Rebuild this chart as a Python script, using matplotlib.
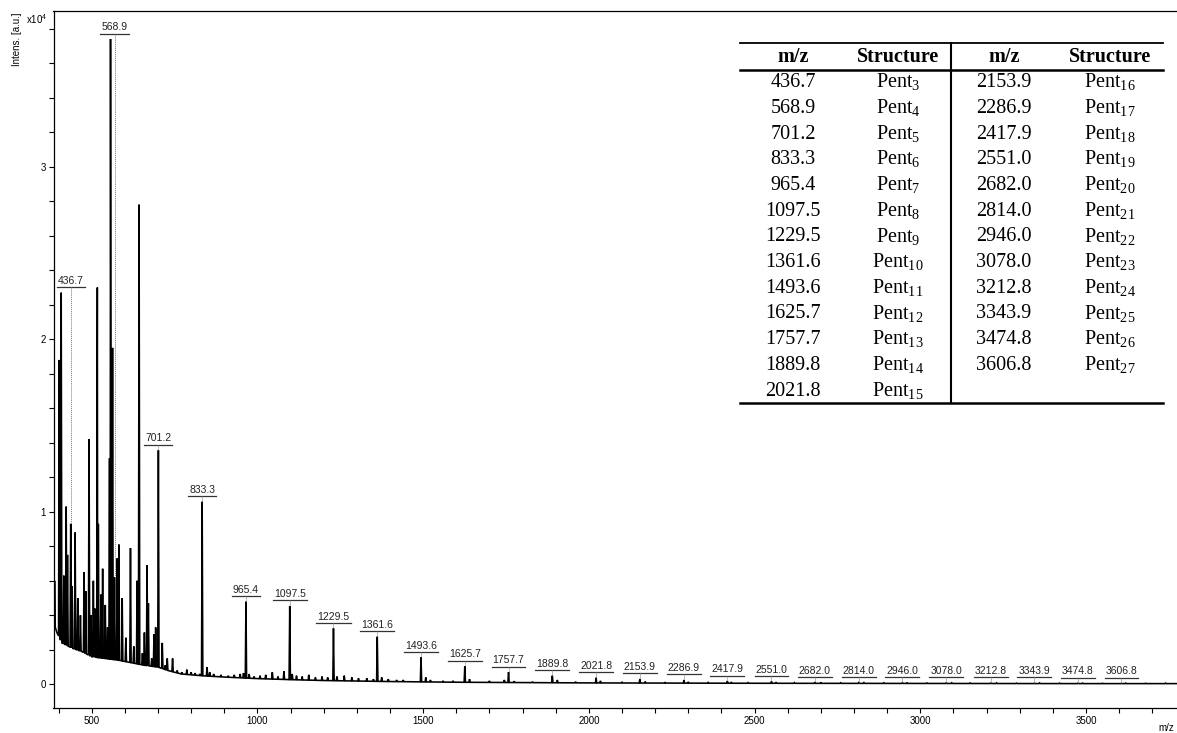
import numpy as np
import matplotlib
matplotlib.use('Agg')
import matplotlib.pyplot as plt
from matplotlib.ticker import MultipleLocator

plt.rcParams['font.family'] = ['Liberation Sans', 'DejaVu Sans']
plt.rcParams['mathtext.fontset'] = 'custom'
plt.rcParams['mathtext.rm'] = 'Liberation Serif'
plt.rcParams['mathtext.sf'] = 'Liberation Sans'

# Pent series (labelled peaks), intensity in units of 1e4
pent_mz = [436.7, 568.9, 701.2, 833.3, 965.4, 1097.5, 1229.5, 1361.6, 1493.6,
           1625.7, 1757.7, 1889.8, 2021.8, 2153.9, 2286.9, 2417.9, 2551.0,
           2682.0, 2814.0, 2946.0, 3078.0, 3212.8, 3343.9, 3474.8, 3606.8]
pent_int = [0.93, 0.62, 1.357, 1.058, 0.479, 0.454, 0.325, 0.276, 0.157,
            0.106, 0.071, 0.050, 0.038, 0.031, 0.025, 0.019, 0.017,
            0.012, 0.010, 0.009, 0.008, 0.007, 0.006, 0.006, 0.005]
pent_dp = list(range(3, 28))

# other (unlabelled) peaks
other_mz = [388, 402, 408, 416, 423, 427, 441, 450, 458, 466, 477, 482, 492, 498,
            505, 509, 517, 520, 528, 533, 541, 548, 553.8, 556.8, 562.9, 577, 582,
            592, 603, 617, 627, 637, 643, 653, 659, 667, 671, 681, 688, 693, 713,
            722, 728, 744, 758, 772, 787, 800, 812, 826, 848, 856, 868, 890, 912,
            930, 948, 958, 975, 990, 1008, 1025, 1045, 1062, 1080, 1105, 1118, 1135,
            1155, 1175, 1195, 1212, 1240, 1262, 1285, 1305, 1330, 1350, 1375, 1395,
            1420, 1440, 1508, 1522, 1560, 1590, 1640, 1700, 1745, 1775, 1830, 1905,
            1960, 2035, 2100, 2170, 2230, 2300, 2360, 2430, 2480, 2565, 2620, 2700,
            2760, 2830, 2890, 2960, 3020, 3095, 3150, 3230, 3290, 3360, 3420, 3490,
            3550, 3620, 3680, 3740]
other_int = [0.60, 1.88, 2.27, 0.63, 1.03, 0.75, 0.57, 0.88, 0.50, 0.40, 0.65, 0.54,
             1.42, 0.40, 0.60, 0.44, 2.30, 0.93, 0.52, 0.67, 0.46, 0.33, 1.31, 3.74,
             1.95, 0.73, 0.81, 0.50, 0.27, 0.79, 0.22, 0.60, 2.78, 0.18, 0.30, 0.69,
             0.47, 0.15, 0.29, 0.33, 0.24, 0.11, 0.15, 0.15, 0.08, 0.07, 0.085, 0.07,
             0.065, 0.06, 0.10, 0.07, 0.06, 0.055, 0.05, 0.055, 0.06, 0.065, 0.06,
             0.045, 0.05, 0.055, 0.07, 0.045, 0.075, 0.06, 0.05, 0.045, 0.055, 0.04,
             0.045, 0.04, 0.045, 0.05, 0.04, 0.035, 0.035, 0.03, 0.04, 0.03, 0.025,
             0.025, 0.04, 0.025, 0.02, 0.02, 0.03, 0.02, 0.025, 0.018, 0.015, 0.025,
             0.015, 0.02, 0.014, 0.016, 0.012, 0.014, 0.011, 0.013, 0.01, 0.012, 0.01,
             0.011, 0.009, 0.01, 0.009, 0.01, 0.008, 0.009, 0.008, 0.008, 0.007,
             0.008, 0.007, 0.007, 0.006, 0.007, 0.006, 0.007]

# baseline floor
base_mz = [385.5, 387, 395, 410, 440, 470, 500, 540, 580, 620, 660, 700, 730, 770,
           830, 900, 1000, 1100, 1200, 1400, 1600, 2000, 2500, 3000, 3500, 3800]
base_int = [0.01, 0.35, 0.30, 0.24, 0.21, 0.19, 0.16, 0.15, 0.14, 0.125, 0.11, 0.10,
            0.08, 0.06, 0.05, 0.042, 0.033, 0.027, 0.022, 0.016, 0.012, 0.008, 0.006,
            0.005, 0.004, 0.004]

# ---- build spectrum trace ----
pk_mz = np.array(pent_mz + other_mz)
pk_int = np.array(pent_int + other_int)
w = 2.0
xs = [b for b in base_mz if np.all(np.abs(pk_mz - b) > w)]
ys = [np.interp(b, base_mz, base_int) for b in xs]
for m, h in zip(pk_mz, pk_int):
    xs += [m - w, m, m + w]
    ys += [np.interp(m - w, base_mz, base_int), h, np.interp(m + w, base_mz, base_int)]
xs = np.array(xs)
ys = np.array(ys)
order = np.argsort(xs, kind='stable')
xs, ys = xs[order], ys[order]

# ---- figure layout ----
W, H = 1177, 733
fig = plt.figure(figsize=(W / 100, H / 100), dpi=100)
px_l, px_r, px_t, px_b = 53.5, 1183, 11, 708.3
ax = fig.add_axes([px_l / W, 1 - px_b / H, (px_r - px_l) / W, (px_b - px_t) / H])
s = (1086 - 91.7) / 3000.0  # px per m/z unit
ax.set_xlim(500 + (px_l - 91.7) / s, 500 + (px_r - 91.7) / s)
sy = (684.3 - 166.7) / 3.0  # px per 1e4
ax.set_ylim(-(px_b - 684.3) / sy, (684.3 - px_t) / sy)

ax.plot(xs, ys, color='black', lw=1.15, solid_joinstyle='miter')

ax.xaxis.set_major_locator(MultipleLocator(500))
ax.xaxis.set_minor_locator(MultipleLocator(100))
ax.yaxis.set_major_locator(MultipleLocator(1))
ax.yaxis.set_minor_locator(MultipleLocator(0.2))
ax.tick_params(which='both', direction='out', length=3.5, width=0.8, labelsize=7, pad=2)
ax.spines['right'].set_visible(False)
for sp in ['left', 'bottom', 'top']:
    ax.spines[sp].set_linewidth(0.9)

fig.text(26 / W, 1 - 19 / H, r'x10$^{\mathsf{4}}$', fontsize=7, va='center', ha='left')
fig.text(17 / W, 1 - 39 / H, 'Intens. [a.u.]', fontsize=7, rotation=90, va='center', ha='center')
fig.text(1174 / W, 1 - 728 / H, 'm/z', fontsize=7, va='center', ha='right')

# ---- peak labels ----
fig.canvas.draw()
renderer = fig.canvas.get_renderer()
gap = 5.5 / sy
for m, h in zip(pent_mz, pent_int):
    win = (xs >= m - 40) & (xs <= m + 40)
    yu = ys[win].max() + gap
    t = ax.text(m, yu + 1.2 / sy, f'{m:.1f}', fontsize=7.5, color='#222222',
                ha='center', va='bottom')
    bb = t.get_window_extent(renderer)
    hw = (bb.width / 2 + 1) / s
    ax.plot([m - hw, m + hw], [yu, yu], color='#333333', lw=0.9)
    ax.plot([m, m], [yu, h], color='#777777', lw=0.7, ls=(0, (1, 1)))

# ---- table ----
def fx(px):
    return px / W

def fy(py):
    return 1 - py / H

serif = 'Liberation Serif'
fs = 14.5
fig.add_artist(plt.Line2D([fx(740), fx(1163)], [fy(42.7), fy(42.7)], color='black', lw=1.3))
fig.add_artist(plt.Line2D([fx(740), fx(1163)], [fy(69.5), fy(69.5)], color='black', lw=1.8))
fig.add_artist(plt.Line2D([fx(740), fx(1163)], [fy(402.7), fy(402.7)], color='black', lw=1.8))
fig.add_artist(plt.Line2D([fx(951), fx(951)], [fy(42.7), fy(402.7)], color='black', lw=1.5))

col_x = [793, 898, 1004, 1110]
for cx, head in zip(col_x, ['m/z', 'Structure', 'm/z', 'Structure']):
    fig.text(fx(cx), fy(57.3), head, family=serif, fontweight='bold', fontsize=fs,
             ha='center', va='center')

row0, dy = 82.7, 25.7
for i, (m, n) in enumerate(zip(pent_mz, pent_dp)):
    col = 0 if i < 13 else 2
    r = i if i < 13 else i - 13
    yy = fy(row0 + r * dy)
    fig.text(fx(col_x[col]), yy, f'{m:.1f}', family=serif, fontsize=fs,
             ha='center', va='center')
    fig.text(fx(col_x[col + 1]), yy, r'Pent$_{\mathrm{%d}}$' % n, family=serif,
             fontsize=fs, ha='center', va='center')

fig.savefig('out.png', dpi=100)
